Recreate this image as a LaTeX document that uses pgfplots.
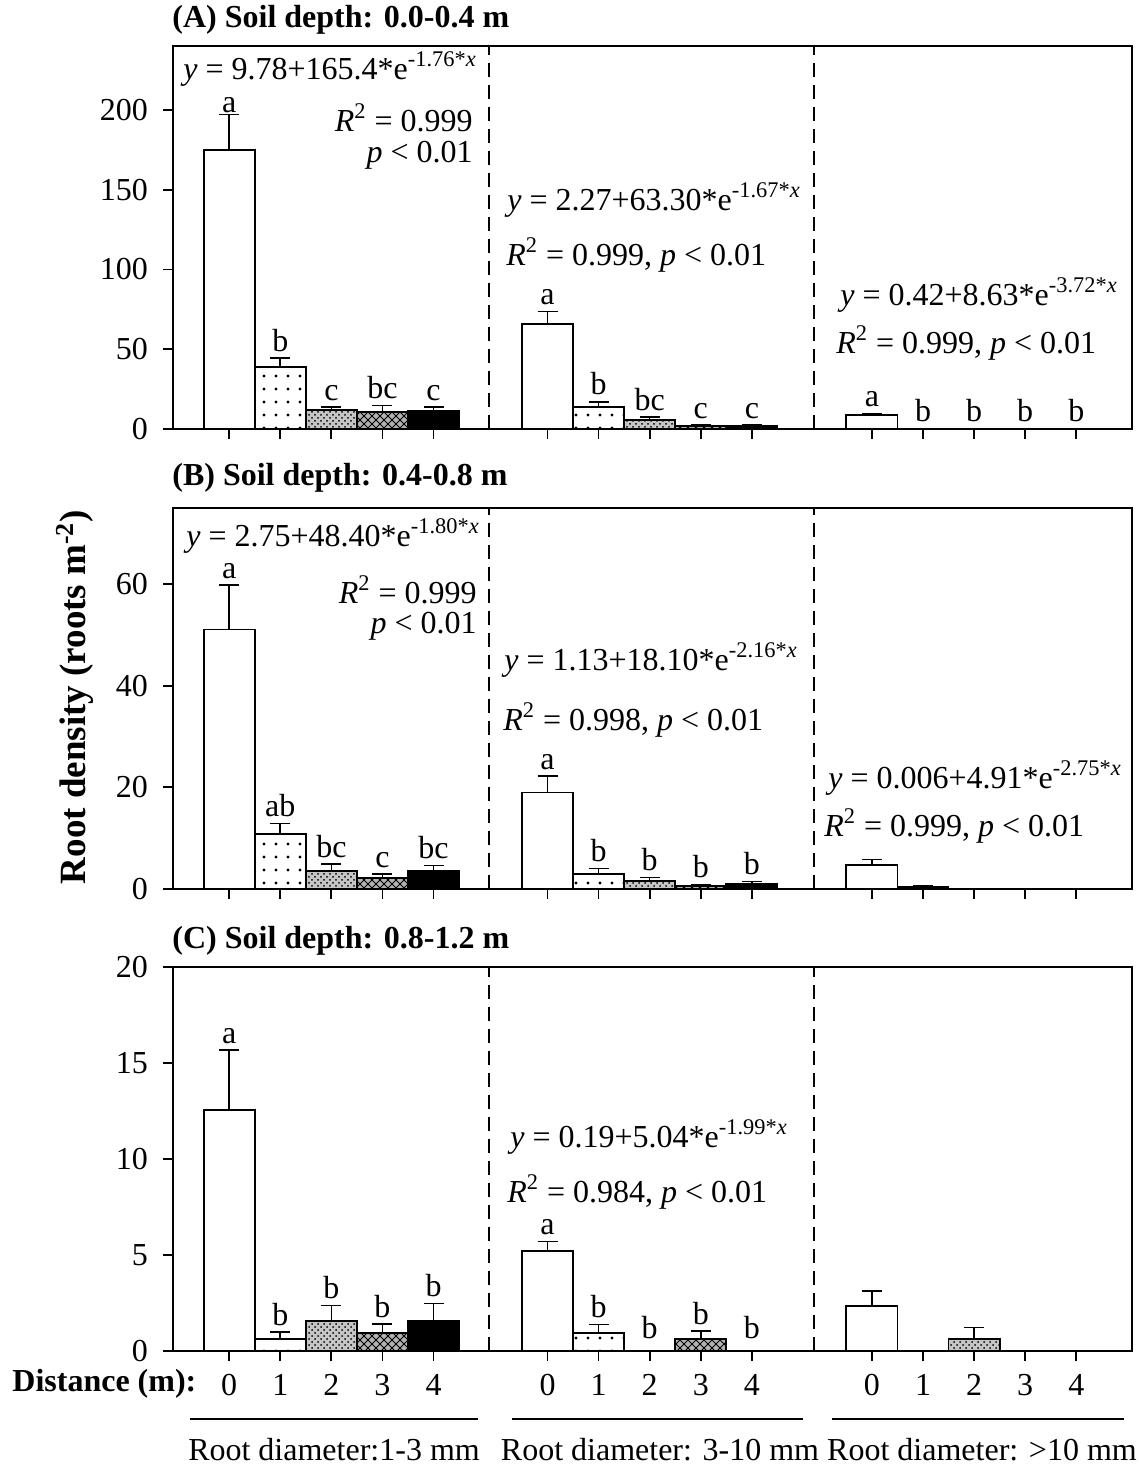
\documentclass[border=0pt]{standalone}
\usepackage{fontspec}
\setmainfont{Liberation Serif}
\usepackage{pgfplots}
\usepackage{pgfplotstable}
\pgfplotsset{compat=1.18}
\usetikzlibrary{patterns}

% bar fills
\pgfdeclarepatternformonly{sparsedots}{\pgfqpoint{-1pt}{-1pt}}{\pgfqpoint{1pt}{1pt}}{\pgfqpoint{6pt}{6.5pt}}{%
  \pgfpathcircle{\pgfqpoint{0pt}{0pt}}{0.8pt}\pgfusepath{fill}}
\pgfdeclarepatternformonly{diagcross}{\pgfqpoint{-0.5pt}{-0.5pt}}{\pgfqpoint{4.5pt}{4.5pt}}{\pgfqpoint{4pt}{4pt}}{%
  \pgfsetlinewidth{0.5pt}%
  \pgfpathmoveto{\pgfqpoint{0pt}{0pt}}\pgfpathlineto{\pgfqpoint{4pt}{4pt}}%
  \pgfpathmoveto{\pgfqpoint{0pt}{4pt}}\pgfpathlineto{\pgfqpoint{4pt}{0pt}}%
  \pgfusepath{stroke}}

% rows = root diameter class, g = x offset of the group
\pgfplotstableread{
g     v0   e0   v1   e1  v2   e2  v3   e3  v4   e4
0     175  22   38.9 5.6 11.9 1.7 10.8 3.8 11.3 2.3
6.23  65.6 7.9  13.6 3.5 5.6  1.9 2.1  0.5 2.0  0.4
12.58 8.8  1.0  0.3  0.1 0.3  0.1 0.3  0.1 0.3  0.1
}\tabA
\pgfplotstableread{
g     v0    e0   v1   e1   v2   e2   v3   e3   v4   e4
0     51.1  8.7  10.8 2.1  3.6  1.3  2.1  0.8  3.6  1.0
6.23  19.0  3.2  2.9  1.1  1.6  0.7  0.65 0.2  1.1  0.4
12.58 4.7   1.1  0.45 0.1  0    0    0    0    0    0
}\tabB
\pgfplotstableread{
g     v0    e0   v1   e1   v2   e2   v3   e3   v4   e4
0     12.55 3.13 0.64 0.36 1.56 0.80 0.95 0.45 1.56 0.92
6.23  5.22  0.49 0.92 0.47 0    0    0.64 0.40 0    0
12.58 2.34  0.80 0    0    0.64 0.59 0    0    0    0
}\tabC

% significance letters
\pgfplotstableread{
x     y     t
0     194   a
1     44.5  b
2     13.6  c
3     14.6  bc
4     13.6  c
6.23  73.5  a
7.23  17.1  b
8.23  7.5   bc
9.23  2.6   c
10.23 2.4   c
12.58 9.8   a
13.58 0.5   b
14.58 0.5   b
15.58 0.5   b
16.58 0.5   b
}\letA
\pgfplotstableread{
x     y     t
0     59.8  a
1     12.9  ab
2     4.9   bc
3     2.9   c
4     4.6   bc
6.23  22.2  a
7.23  4.0   b
8.23  2.3   b
9.23  0.85  b
10.23 1.5   b
}\letB
\pgfplotstableread{
x     y     t
0     15.68 a
1     1.0   b
2     2.36  b
3     1.4   b
4     2.48  b
6.23  5.71  a
7.23  1.39  b
8.23  0.3   b
9.23  1.04  b
10.23 0.3   b
}\letC

\newcommand{\txt}{\fontsize{16}{19}\selectfont}

\pgfplotsset{
  panel/.style={
    scale only axis, width=479.5pt,
    xmin=-1.10, xmax=17.67, ymin=0,
    axis line style={line width=1pt},
    tick align=outside, xtick pos=bottom, ytick pos=left,
    major tick length=5pt,
    tick style={line width=0.9pt, black},
    xtick={0,1,2,3,4,6.23,7.23,8.23,9.23,10.23,12.58,13.58,14.58,15.58,16.58},
    xticklabels={},
    tick label style={font=\txt},
    yticklabel style={xshift=-4pt},
    xticklabel style={yshift=-3pt},
    /pgf/number format/assume math mode=true,
    clip=false,
  },
  barbase/.style={
    ybar, bar width=1, bar shift=0pt, draw=black, line width=0.9pt,
    error bars/y dir=plus, error bars/y explicit,
    error bars/error mark=-,
    error bars/error bar style={line width=0.8pt, black},
    error bars/error mark options={rotate=90, line width=0.8pt, mark size=5pt, black},
  },
  s0/.style={barbase, fill=white},
  s1/.style={barbase, fill=white, postaction={pattern=sparsedots}},
  s2/.style={barbase, fill=gray!45, postaction={pattern=crosshatch dots}},
  s3/.style={barbase, fill=gray!60, postaction={pattern=diagcross}},
  s4/.style={barbase, fill=black},
  letters/.style={only marks, mark=none,
    nodes near coords={\textrm{\pgfplotspointmeta}},
    point meta=explicit symbolic,
    nodes near coords style={anchor=south, inner sep=0.5pt, yshift=2.5pt, font=\txt, black}},
  sep/.style={black, line width=0.9pt, dash pattern=on 7pt off 4pt, forget plot},
}

\begin{document}
\begin{tikzpicture}[font=\txt]
\path[use as bounding box] (0,0) rectangle (569.5pt,734pt);

% (A)
\begin{axis}[panel, at={(86.5pt,519.5pt)}, anchor=south west, height=191.5pt,
  ymax=240, ytick={0,50,100,150,200}]
\addplot[s0] table[x expr=\thisrow{g},   y=v0, y error=e0] {\tabA};
\addplot[s1] table[x expr=\thisrow{g}+1, y=v1, y error=e1] {\tabA};
\addplot[s2] table[x expr=\thisrow{g}+2, y=v2, y error=e2] {\tabA};
\addplot[s3] table[x expr=\thisrow{g}+3, y=v3, y error=e3] {\tabA};
\addplot[s4] table[x expr=\thisrow{g}+4, y=v4, y error=e4] {\tabA};
\addplot[letters] table[x=x, y=y, meta=t] {\letA};
\addplot[sep] coordinates {(5.09,0) (5.09,240)};
\addplot[sep] coordinates {(11.45,0) (11.45,240)};
\end{axis}

% (B)
\begin{axis}[panel, at={(86.5pt,289.5pt)}, anchor=south west, height=190.5pt,
  ymax=75, ytick={0,20,40,60}]
\addplot[s0] table[x expr=\thisrow{g},   y=v0, y error=e0] {\tabB};
\addplot[s1] table[x expr=\thisrow{g}+1, y=v1, y error=e1] {\tabB};
\addplot[s2] table[x expr=\thisrow{g}+2, y=v2, y error=e2] {\tabB};
\addplot[s3] table[x expr=\thisrow{g}+3, y=v3, y error=e3] {\tabB};
\addplot[s4] table[x expr=\thisrow{g}+4, y=v4, y error=e4] {\tabB};
\addplot[letters] table[x=x, y=y, meta=t] {\letB};
\addplot[sep] coordinates {(5.09,0) (5.09,75)};
\addplot[sep] coordinates {(11.45,0) (11.45,75)};
\end{axis}

% (C)
\begin{axis}[panel, at={(86.5pt,58.5pt)}, anchor=south west, height=192pt,
  ymax=20, ytick={0,5,10,15,20},
  xticklabels={0,1,2,3,4,0,1,2,3,4,0,1,2,3,4}]
\addplot[s0] table[x expr=\thisrow{g},   y=v0, y error=e0] {\tabC};
\addplot[s1] table[x expr=\thisrow{g}+1, y=v1, y error=e1] {\tabC};
\addplot[s2] table[x expr=\thisrow{g}+2, y=v2, y error=e2] {\tabC};
\addplot[s3] table[x expr=\thisrow{g}+3, y=v3, y error=e3] {\tabC};
\addplot[s4] table[x expr=\thisrow{g}+4, y=v4, y error=e4] {\tabC};
\addplot[letters] table[x=x, y=y, meta=t] {\letC};
\addplot[sep] coordinates {(5.09,0) (5.09,20)};
\addplot[sep] coordinates {(11.45,0) (11.45,20)};
\end{axis}

% texts placed in reference pixel coordinates
\begin{scope}[x=0.5pt, y=-0.5pt, yshift=734pt, every node/.style={inner sep=0pt}]
\node[anchor=west, font=\bfseries\txt] at (172,20) {(A) Soil depth: 0.0-0.4 m};
\node[anchor=west, font=\bfseries\txt] at (172,478) {(B) Soil depth: 0.4-0.8 m};
\node[anchor=west, font=\bfseries\txt] at (172,941) {(C) Soil depth: 0.8-1.2 m};
\node[rotate=90, font=\bfseries\fontsize{18.5}{22}\selectfont] at (75,697) {Root density (roots m\textsuperscript{-2})};

\node[anchor=west] at (183,69) {\textit{y} = 9.78+165.4*e\textsuperscript{-1.76*\textit{x}}};
\node[anchor=east] at (473,118) {\textit{R}\textsuperscript{2} = 0.999};
\node[anchor=east] at (473,155) {\textit{p} < 0.01};
\node[anchor=west] at (507,200) {\textit{y} = 2.27+63.30*e\textsuperscript{-1.67*\textit{x}}};
\node[anchor=west] at (506,255) {\textit{R}\textsuperscript{2} = 0.999, \textit{p} < 0.01};
\node[anchor=west] at (840,295) {\textit{y} = 0.42+8.63*e\textsuperscript{-3.72*\textit{x}}};
\node[anchor=west] at (836,343) {\textit{R}\textsuperscript{2} = 0.999, \textit{p} < 0.01};

\node[anchor=west] at (186,536) {\textit{y} = 2.75+48.40*e\textsuperscript{-1.80*\textit{x}}};
\node[anchor=east] at (477,590) {\textit{R}\textsuperscript{2} = 0.999};
\node[anchor=east] at (477,626) {\textit{p} < 0.01};
\node[anchor=west] at (504,660) {\textit{y} = 1.13+18.10*e\textsuperscript{-2.16*\textit{x}}};
\node[anchor=west] at (503,720) {\textit{R}\textsuperscript{2} = 0.998, \textit{p} < 0.01};
\node[anchor=west] at (828,778) {\textit{y} = 0.006+4.91*e\textsuperscript{-2.75*\textit{x}}};
\node[anchor=west] at (824,826) {\textit{R}\textsuperscript{2} = 0.999, \textit{p} < 0.01};

\node[anchor=west] at (510,1137) {\textit{y} = 0.19+5.04*e\textsuperscript{-1.99*\textit{x}}};
\node[anchor=west] at (507,1192) {\textit{R}\textsuperscript{2} = 0.984, \textit{p} < 0.01};

\node[anchor=west, font=\bfseries\txt] at (12,1384) {Distance (m):};
\draw[line width=1pt] (190,1419) -- (478,1419);
\draw[line width=1pt] (512,1419) -- (803,1419);
\draw[line width=1pt] (832,1419) -- (1124,1419);
\node at (334,1450) {Root diameter:1-3 mm};
\node at (660,1450) {Root diameter: 3-10 mm};
\node at (982,1450) {Root diameter: >10 mm};
\end{scope}
\end{tikzpicture}
\end{document}
